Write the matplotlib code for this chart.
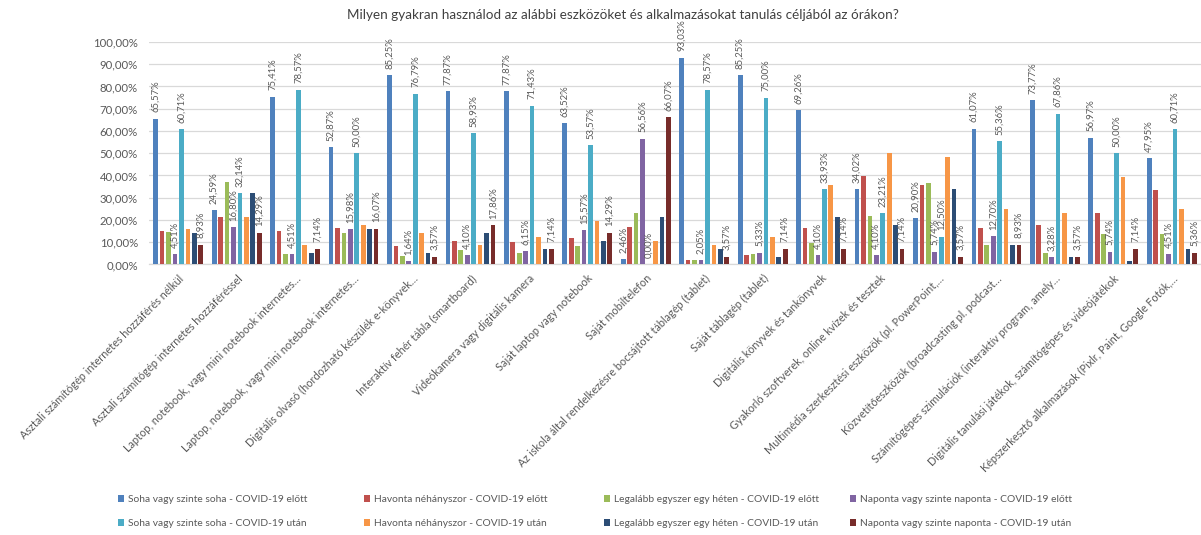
import matplotlib
matplotlib.use("Agg")
import matplotlib.pyplot as plt
import numpy as np
from matplotlib.patches import Patch

plt.rcParams['font.family'] = ['Lato', 'DejaVu Sans']

title = "Milyen gyakran használod az alábbi eszközöket és alkalmazásokat tanulás céljából az órákon?"

categories = [
    "Asztali számítógép internetes hozzáférés nélkül",
    "Asztali számítógép internetes hozzáféréssel",
    "Laptop, notebook, vagy mini notebook internetes…",
    "Laptop, notebook, vagy mini notebook internetes…",
    "Digitális olvasó (hordozható készülék e-könyvek…",
    "Interaktív fehér tábla (smartboard)",
    "Videókamera vagy digitális kamera",
    "Saját laptop vagy notebook",
    "Saját mobiltelefon",
    "Az iskola által rendelkezésre bocsájtott táblagép (tablet)",
    "Saját táblagép (tablet)",
    "Digitális könyvek és tankönyvek",
    "Gyakorló szoftverek, online kvízek és tesztek",
    "Multimédia szerkesztési eszközök (pl. PowerPoint,…",
    "Közvetítőeszközök (broadcasting pl. podcast…",
    "Számítógépes szimulációk (interaktív program, amely…",
    "Digitális tanulási játékok, számítógépes és videójátékok",
    "Képszerkesztő alkalmazások (Pixlr, Paint, Google Fotók,…",
]

soha_elott = [65.57, 24.59, 75.41, 52.87, 85.25, 77.87, 77.87, 63.52, 2.46,
              93.03, 85.25, 69.26, 34.02, 20.90, 61.07, 73.77, 56.97, 47.95]
havonta_elott = [15.16, 21.31, 15.16, 16.39, 8.20, 10.66, 10.25, 11.89, 16.80,
                 2.05, 4.10, 16.39, 39.75, 35.66, 16.39, 17.62, 22.95, 33.61]
legalabb_elott = [14.75, 37.30, 4.51, 14.34, 3.69, 6.56, 5.33, 8.20, 23.36,
                  2.05, 4.51, 9.84, 21.72, 36.48, 8.61, 5.33, 13.93, 13.52]
naponta_elott = [4.51, 16.80, 4.51, 15.98, 1.64, 4.10, 6.15, 15.57, 56.56,
                 2.05, 5.33, 4.10, 4.10, 5.74, 12.70, 3.28, 5.74, 4.51]
soha_utan = [60.71, 32.14, 78.57, 50.00, 76.79, 58.93, 71.43, 53.57, 0.00,
             78.57, 75.00, 33.93, 23.21, 12.50, 55.36, 67.86, 50.00, 60.71]
havonta_utan = [16.07, 21.43, 8.93, 17.86, 14.29, 8.93, 12.50, 19.64, 10.71,
                8.93, 12.50, 35.71, 50.00, 48.21, 25.00, 23.21, 39.29, 25.00]
legalabb_utan = [14.29, 32.14, 5.36, 16.07, 5.36, 14.29, 7.14, 10.71, 21.43,
                 7.14, 3.57, 21.43, 17.86, 33.93, 8.93, 3.57, 1.79, 7.14]
naponta_utan = [8.93, 14.29, 7.14, 16.07, 3.57, 17.86, 7.14, 14.29, 66.07,
                3.57, 7.14, 7.14, 7.14, 3.57, 8.93, 3.57, 7.14, 5.36]

series_names = [
    "Soha vagy szinte soha - COVID-19 előtt",
    "Havonta néhányszor - COVID-19 előtt",
    "Legalább egyszer egy héten - COVID-19 előtt",
    "Naponta vagy szinte naponta - COVID-19 előtt",
    "Soha vagy szinte soha - COVID-19 után",
    "Havonta néhányszor - COVID-19 után",
    "Legalább egyszer egy héten - COVID-19 után",
    "Naponta vagy szinte naponta - COVID-19 után",
]
series_values = [soha_elott, havonta_elott, legalabb_elott, naponta_elott,
                 soha_utan, havonta_utan, legalabb_utan, naponta_utan]
colors = ["#4F81BD", "#C0504D", "#9BBB59", "#8064A2",
          "#4BACC6", "#F79646", "#2C4D75", "#772C2A"]
labelled = {0, 3, 4, 7}

def fmt(v):
    return f"{v:.2f}".replace(".", ",") + "%"

W, H = 1201, 535
fig = plt.figure(figsize=(W / 100, H / 100), dpi=100)
ax = fig.add_axes([149 / W, 1 - 264.5 / H, (1201 - 149) / W, (264.5 - 42) / H])

grey = "#595959"
n = len(categories)
x = np.arange(n)
pitch = 0.11
width = 0.08
for i, (vals, col) in enumerate(zip(series_values, colors)):
    pos = x + (i - 3.5) * pitch
    v = np.array(vals) / 100
    ax.bar(pos, v, width=width, color=col, zorder=3)
    if i in labelled:
        for xp, val, raw in zip(pos, v, vals):
            ax.annotate(fmt(raw), (xp, val), xytext=(0, 4.5),
                        textcoords="offset points", rotation=90,
                        ha="center", va="bottom", fontsize=6.8,
                        color=grey, annotation_clip=False, zorder=4)

ax.set_xlim(-0.5, n - 0.5)
ax.set_ylim(0, 1.0)
ax.set_yticks(np.arange(0, 1.01, 0.1))
ax.set_yticklabels([f"{t:.2f}".replace(".", ",") + "%" for t in np.arange(0, 101, 10)],
                   fontsize=8.2, color=grey)
ax.set_xticks(x)
ax.set_xticklabels(categories, rotation=45, ha="right", va="top",
                   rotation_mode="anchor", fontsize=7.8, color=grey)
ax.tick_params(axis="y", length=0, pad=8)
ax.tick_params(axis="x", length=0, pad=6)
ax.grid(axis="y", color="#D9D9D9", linewidth=0.9, zorder=0)
for s in ["top", "right", "left"]:
    ax.spines[s].set_visible(False)
ax.spines["bottom"].set_color("#D9D9D9")
ax.spines["bottom"].set_linewidth(0.9)

fig.text(623 / W, 1 - 15 / H, title, ha="center", va="center",
         fontsize=9.7, color="#404040")

col_x = [118, 364, 604, 850]
for c in range(4):
    handles = [Patch(facecolor=colors[c], label=series_names[c]),
               Patch(facecolor=colors[c + 4], label=series_names[c + 4])]
    fig.legend(handles=handles, loc="upper left",
               bbox_to_anchor=(col_x[c] / W, 1 - 495 / H),
               frameon=False, fontsize=7.4, labelcolor=grey,
               handlelength=0.6, handleheight=0.6, handletextpad=0.4,
               labelspacing=1.45, borderpad=0, borderaxespad=0)

fig.savefig("out.png", dpi=100)
